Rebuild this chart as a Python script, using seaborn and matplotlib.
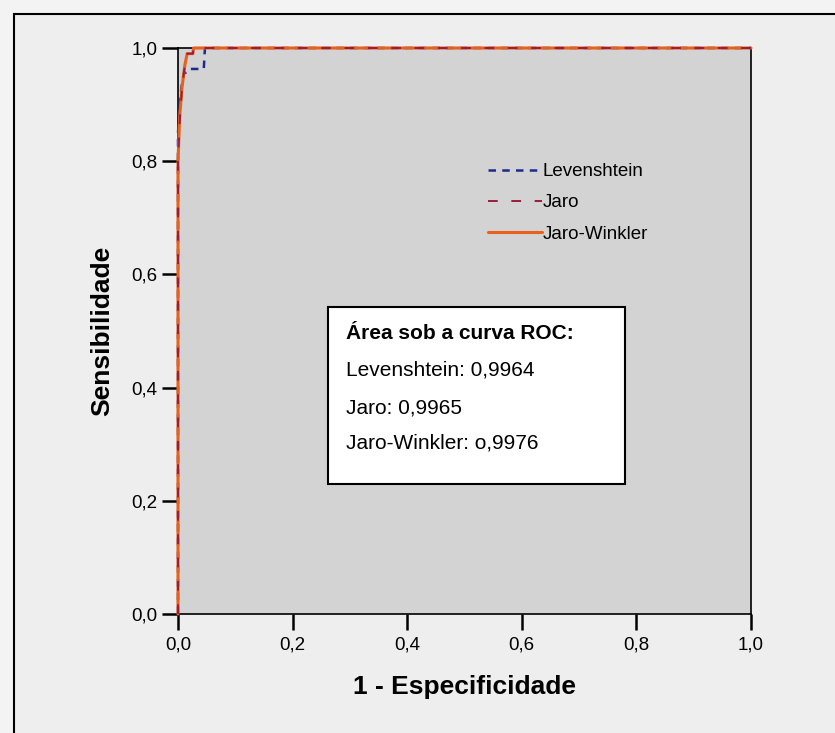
import matplotlib
matplotlib.use("Agg")
import matplotlib.pyplot as plt
import seaborn as sns
import pandas as pd
from matplotlib.patches import Rectangle

# ROC curve points (1 - specificity, sensitivity)
lev_fpr = [0.0, 0.0, 0.003, 0.006, 0.010, 0.017, 0.020, 0.045, 0.047, 1.0]
lev_tpr = [0.0, 0.85, 0.90, 0.93, 0.955, 0.958, 0.963, 0.963, 1.0, 1.0]
jaro_fpr = [0.0, 0.0, 0.003, 0.007, 0.012, 0.016, 0.026, 0.027, 1.0]
jaro_tpr = [0.0, 0.80, 0.87, 0.93, 0.97, 0.99, 0.99, 1.0, 1.0]
jw_fpr = [0.0, 0.0, 0.003, 0.007, 0.012, 0.016, 0.026, 0.027, 1.0]
jw_tpr = [0.0, 0.80, 0.88, 0.93, 0.97, 0.99, 0.99, 1.0, 1.0]

series_names = ["Levenshtein", "Jaro", "Jaro-Winkler"]
auc_title = "Área sob a curva ROC:"
auc_lines = ["Levenshtein: 0,9964", "Jaro: 0,9965", "Jaro-Winkler: o,9976"]
ticks = [0.0, 0.2, 0.4, 0.6, 0.8, 1.0]
tick_labels = ["0,0", "0,2", "0,4", "0,6", "0,8", "1,0"]

sns.set_theme(style="white")
plt.rcParams['font.family'] = ['Liberation Sans', 'DejaVu Sans']
plt.rcParams['text.color'] = 'black'
plt.rcParams['axes.labelcolor'] = 'black'
plt.rcParams['xtick.color'] = 'black'
plt.rcParams['ytick.color'] = 'black'

fig = plt.figure(figsize=(8.35, 7.33), dpi=100)
fig.patch.set_facecolor("#f3f3f3")
# outer frame
fig.add_artist(Rectangle((14/835, -0.1), 1.2, 1 - 14/733 + 0.1, transform=fig.transFigure,
                         facecolor="#eeeeee", edgecolor="black", linewidth=1.5, zorder=-10))

ax = fig.add_axes([178/835, 1 - 614/733, (751-178)/835, (614-48)/733])
ax.set_facecolor("#d3d3d3")

df_lev = pd.DataFrame({"x": lev_fpr, "y": lev_tpr})
df_jaro = pd.DataFrame({"x": jaro_fpr, "y": jaro_tpr})
df_jw = pd.DataFrame({"x": jw_fpr, "y": jw_tpr})

sns.lineplot(data=df_lev, x="x", y="y", ax=ax, sort=False, estimator=None, color="#1c2a8c",
             linewidth=1.8, label=series_names[0], zorder=3)
ax.lines[-1].set_dashes([3, 2.5])
sns.lineplot(data=df_jw, x="x", y="y", ax=ax, sort=False, estimator=None, color="#e8601c",
             linewidth=2.2, label=series_names[2], zorder=4)
sns.lineplot(data=df_jaro, x="x", y="y", ax=ax, sort=False, estimator=None, color="#9b1b3c",
             linewidth=1.4, label=series_names[1], zorder=5)
ax.lines[-1].set_dashes([5, 7])
for ln in ax.lines:
    ln.set_clip_on(False)

handles, labels = ax.get_legend_handles_labels()
order = [0, 2, 1]
leg = ax.legend([handles[i] for i in order], [labels[i] for i in order],
                loc="upper left", bbox_to_anchor=(0.528, 0.81), frameon=False,
                handlelength=2.9, handletextpad=0.0, labelspacing=0.75, fontsize=13.5,
                borderaxespad=0)

ax.set_xlim(0, 1)
ax.set_ylim(0, 1)
ax.set_xticks(ticks)
ax.set_xticklabels(tick_labels, fontsize=13.5)
ax.set_yticks(ticks)
ax.set_yticklabels(tick_labels, fontsize=13.5)
ax.tick_params(axis="both", direction="out", length=11.5, width=1.8, color="black",
               left=True, bottom=True)
ax.tick_params(axis="x", pad=4.5)
ax.tick_params(axis="y", pad=3.5)
for s in ax.spines.values():
    s.set_visible(True)
    s.set_color("black")
    s.set_linewidth(1.2)

ax.set_xlabel("1 - Especificidade", fontsize=19, fontweight="bold", labelpad=16)
ax.set_ylabel("Sensibilidade", fontsize=19, fontweight="bold", labelpad=12)

# AUC box
ax.add_patch(Rectangle((0.262, 0.230), 0.518, 0.312, facecolor="white", edgecolor="black",
                       linewidth=1.5, zorder=6))
ax.text(0.293, 0.496, auc_title, fontsize=15, fontweight="bold", va="center", ha="left", zorder=7)
for txt, yy in zip(auc_lines, [0.431, 0.364, 0.302]):
    ax.text(0.293, yy, txt, fontsize=15, va="center", ha="left", zorder=7)

fig.savefig("out.png", dpi=100, facecolor=fig.get_facecolor())
